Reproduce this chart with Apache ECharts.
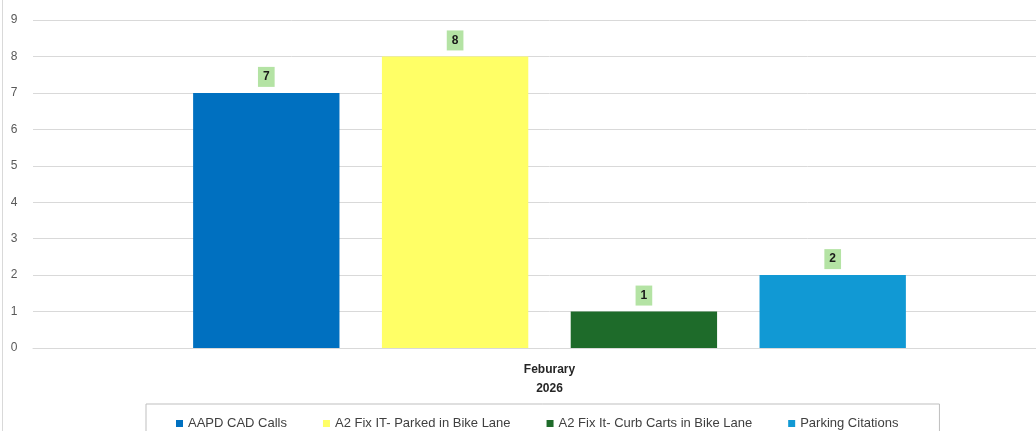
<!DOCTYPE html>
<html><head><meta charset="utf-8">
<script src="https://cdn.jsdelivr.net/npm/echarts@6/dist/echarts.min.js"></script>
<style>html,body{margin:0;padding:0;background:#fff;overflow:hidden;width:1036px;height:431px}#c{width:1066px;height:431px}</style>
</head><body><div id="c"></div>
<script>
const categories = ['Feburary'];
const yearLabel = '2026';
const seriesNames = ['AAPD CAD Calls', 'A2 Fix IT- Parked in Bike Lane', 'A2 Fix It- Curb Carts in Bike Lane', 'Parking Citations'];
const seriesValues = [[7], [8], [1], [2]];
const seriesColors = ['#0070c0', '#ffff66', '#1e6b2a', '#1199d4'];
const yTicks = [0, 9, 1];

const font = "'Liberation Sans', sans-serif";
const chart = echarts.init(document.getElementById('c'));
chart.setOption({
  animation: false,
  textStyle: { fontFamily: font },
  graphic: [{ type: 'line', shape: { x1: 2.5, y1: 0, x2: 2.5, y2: 431 }, style: { stroke: '#d9d9d9', lineWidth: 1 } }],
  grid: { left: 33, top: 20, right: 0, height: 328, containLabel: false },
  legend: {
    data: seriesNames, left: 146, top: 404,
    itemWidth: 7, itemHeight: 7, itemGap: 36, icon: 'rect',
    borderColor: '#bfbfbf', borderWidth: 1,
    padding: [13, 41, 20, 30],
    textStyle: { fontFamily: font, fontSize: 13, color: '#404040' }
  },
  xAxis: {
    type: 'category', data: categories,
    axisLine: { show: true, lineStyle: { color: '#d9d9d9' } },
    axisTick: { show: false },
    axisLabel: {
      margin: 12,
      formatter: v => '{a|' + v + '}\n{b|' + yearLabel + '}',
      rich: {
        a: { fontFamily: font, fontSize: 12, fontWeight: 'bold', color: '#262626', lineHeight: 19 },
        b: { fontFamily: font, fontSize: 12, fontWeight: 'bold', color: '#262626', lineHeight: 19 }
      }
    }
  },
  yAxis: {
    type: 'value', min: yTicks[0], max: yTicks[1], interval: yTicks[2],
    axisLine: { show: false }, axisTick: { show: false },
    splitLine: { lineStyle: { color: '#d9d9d9' } },
    axisLabel: { fontFamily: font, fontSize: 12, color: '#595959', margin: 19, align: 'center' }
  },
  series: seriesNames.map((n, i) => ({
    name: n, type: 'bar', data: seriesValues[i],
    barGap: '29%', barCategoryGap: '31%',
    itemStyle: { color: seriesColors[i] },
    label: {
      show: true, position: 'top', distance: 6,
      backgroundColor: '#b4e3a4', padding: [4, 5, 4, 5],
      fontFamily: font, fontSize: 12, fontWeight: 'bold', color: '#1a1a1a'
    }
  }))
});
</script></body></html>
